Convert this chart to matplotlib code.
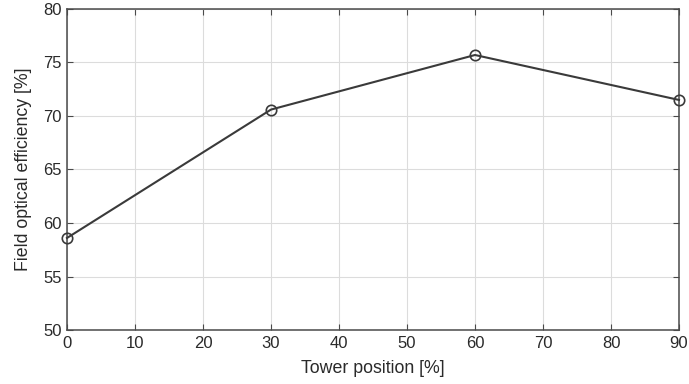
import matplotlib
matplotlib.use("Agg")
import matplotlib.pyplot as plt

plt.rcParams['font.family'] = ['Liberation Sans', 'DejaVu Sans']

tower_position = [0, 30, 60, 90]
efficiency = [58.6, 70.6, 75.7, 71.5]
x_ticks = [0, 10, 20, 30, 40, 50, 60, 70, 80, 90]
y_ticks = [50, 55, 60, 65, 70, 75, 80]

fig = plt.figure(figsize=(6.89, 3.84), dpi=100)
ax = fig.add_axes([0.0972, 0.1406, 0.8883, 0.836])
ax.plot(tower_position, efficiency, color='#3a3a3a', lw=1.5, marker='o',
        markersize=7.5, markerfacecolor='none', markeredgecolor='#3a3a3a', markeredgewidth=1.2,
        clip_on=False, zorder=3)
ax.set_xlim(0, 90)
ax.set_ylim(50, 80)
ax.set_xticks(x_ticks)
ax.set_yticks(y_ticks)
ax.grid(True, color='#dcdcdc', lw=0.8)
ax.set_axisbelow(True)
for s in ax.spines.values():
    s.set_color('#4a4a4a')
    s.set_linewidth(1.1)
ax.tick_params(direction='in', top=True, right=True, length=4, color='#4a4a4a',
               labelsize=12, labelcolor='#2a2a2a', pad=4)
ax.set_xlabel('Tower position [%]', fontsize=12.8, color='#2a2a2a', labelpad=7)
ax.set_ylabel('Field optical efficiency [%]', fontsize=12.8, color='#2a2a2a', labelpad=8)
fig.savefig('out.png', dpi=100)
